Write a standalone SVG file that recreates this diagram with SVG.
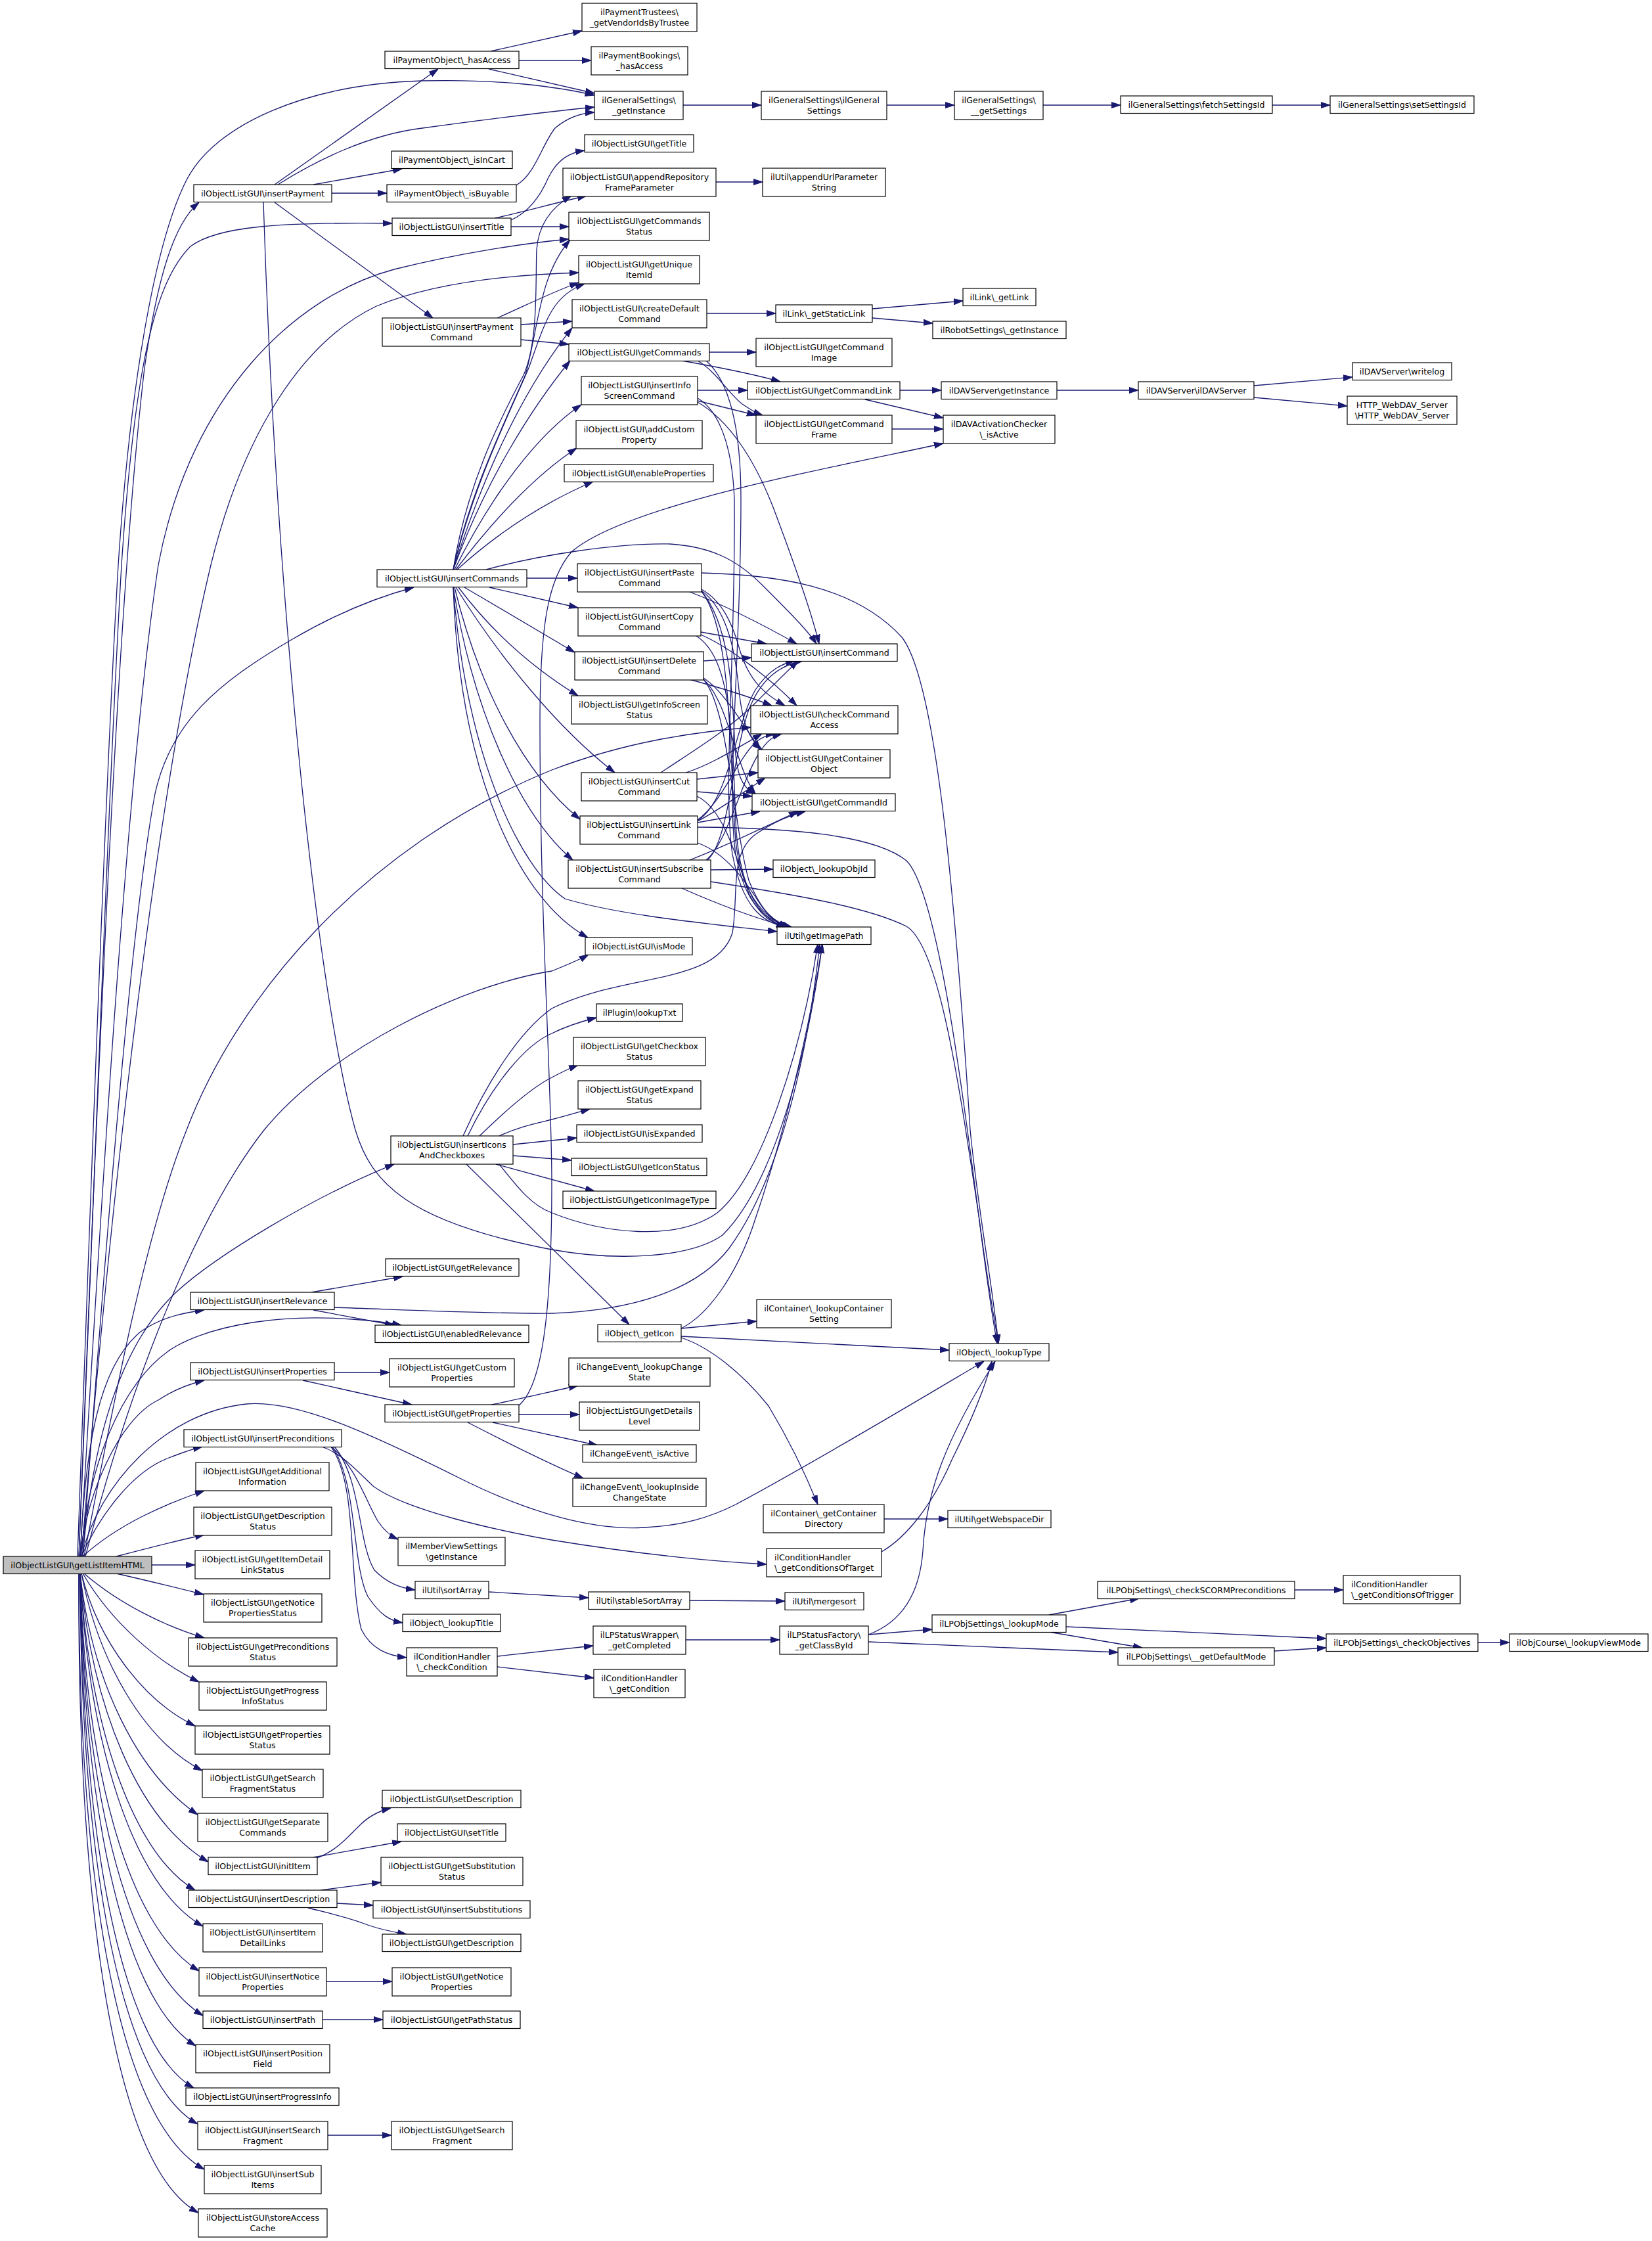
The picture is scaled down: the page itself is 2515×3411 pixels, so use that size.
<svg xmlns="http://www.w3.org/2000/svg" width="2515" height="3411" viewBox="0 0 2515 3411">
<style>
.n rect{fill:#fff;stroke:#000;stroke-width:1.2}
.r rect{fill:#bfbfbf}
text{font-family:"DejaVu Sans","Liberation Sans",sans-serif;font-size:12.6px;fill:#000;text-anchor:middle}
.l text{text-anchor:start}
#edges path{fill:none;stroke:#191970;stroke-width:1.3;marker-end:url(#a)}
</style>
<defs>
<marker id="a" viewBox="0 0 14 10" refX="14" refY="5" markerWidth="14" markerHeight="10" markerUnits="userSpaceOnUse" orient="auto"><path d="M0,0.5 L14,5 L0,9.5 z" fill="#191970" stroke="#191970" stroke-width="1"/></marker>
</defs>
<rect width="2515" height="3411" fill="#fff"/>
<g id="edges">
<path d="M120,2369 C150,1600 180,900 220,560 C240,420 265,340 303,308"/>
<path d="M118,2369 C135,1900 160,1200 180,860 C200,560 240,360 284,274 C328,188 470,128 643,123 C760,120 850,132 905,145"/>
<path d="M120,2369 C140,1900 165,1200 185,860 C205,560 235,430 290,375 C330,345 420,338 597,340"/>
<path d="M122,2369 C150,1900 190,1200 241,860 C290,600 450,450 600,410 C700,385 800,370 866,364"/>
<path d="M124,2369 C170,1800 240,1200 321,860 C370,660 460,520 573,466 C660,430 780,418 881,415"/>
<path d="M126,2369 C160,1900 200,1400 236,1208 C260,1100 330,1040 445,973 C510,935 570,910 630,894"/>
<path d="M128,2369 C170,2150 220,1880 284,1720 C360,1520 550,1290 840,1172 C950,1130 1050,1115 1143,1107"/>
<path d="M130,2369 C200,2100 300,1850 402,1720 C500,1600 700,1500 840,1478 C860,1470 880,1462 896,1453"/>
<path d="M126,2369 C140,2200 180,2050 268,1967 C330,1910 480,1820 600,1772"/>
<path d="M122,2369 C130,2200 150,2080 214,2027 C245,2005 280,1998 311,1994"/>
<path d="M124,2369 C130,2250 180,2100 268,2049 C330,2015 430,2000 536,2008 C570,2010 590,2013 611,2017"/>
<path d="M122,2369 C130,2280 180,2160 241,2131 C265,2115 290,2106 311,2101"/>
<path d="M124,2369 C150,2260 250,2150 375,2137 C450,2130 560,2180 700,2250 C800,2300 900,2330 980,2325 C1040,2322 1080,2310 1120,2290 C1250,2220 1400,2130 1498,2072"/>
<path d="M124,2369 C150,2310 200,2240 257,2219 C280,2210 295,2205 308,2202"/>
<path d="M126,2369 C180,2320 250,2290 311,2269"/>
<path d="M177,2369 C230,2355 270,2345 311,2336"/>
<path d="M231,2382 L297,2382"/>
<path d="M177,2395 C230,2407 270,2417 310,2427"/>
<path d="M128,2395 C180,2440 250,2475 311,2493"/>
<path d="M126,2395 C170,2470 240,2530 303,2560"/>
<path d="M124,2395 C150,2500 220,2590 297,2627"/>
<path d="M124,2395 C150,2530 220,2650 308,2695"/>
<path d="M122,2395 C140,2560 210,2700 301,2762"/>
<path d="M122,2395 C140,2600 210,2770 317,2834"/>
<path d="M122,2395 C135,2620 200,2820 297,2877"/>
<path d="M122,2395 C135,2650 200,2870 309,2932"/>
<path d="M122,2395 C130,2680 190,2930 303,3000"/>
<path d="M122,2395 C128,2700 185,2990 309,3068"/>
<path d="M122,2395 C126,2720 180,3040 298,3114"/>
<path d="M122,2395 C124,2750 175,3110 295,3178"/>
<path d="M122,2395 C122,2770 170,3160 301,3233"/>
<path d="M120,2395 C120,2800 165,3220 311,3302"/>
<path d="M120,2395 C118,2830 160,3290 302,3368"/>
<path d="M418,281 L667,105"/>
<path d="M423,281 C480,245 560,205 643,195 C740,182 830,170 905,163"/>
<path d="M477,281 L612,257"/>
<path d="M505,294 L589,294"/>
<path d="M418,308 L659,484"/>
<path d="M401,308 C420,900 480,1500 541,1720 C565,1800 620,1860 840,1902 C940,1920 1050,1915 1100,1880 C1180,1800 1230,1600 1252,1437"/>
<path d="M778,335 C800,325 820,305 835,270 C850,240 870,232 890,229"/>
<path d="M753,332 C800,322 840,310 893,298"/>
<path d="M778,345 L866,345"/>
<path d="M747,78 L886,47"/>
<path d="M790,92 L900,92"/>
<path d="M744,105 L905,142"/>
<path d="M786,282 C815,265 825,220 845,195 C865,178 885,172 905,171"/>
<path d="M757,484 C800,465 840,445 881,430"/>
<path d="M793,494 L871,489"/>
<path d="M793,517 L866,524"/>
<path d="M690,867 C710,740 760,640 797,571 C820,520 815,430 817,380 C820,340 840,315 870,298"/>
<path d="M690,867 C715,750 770,640 800,570 C820,500 820,420 868,365"/>
<path d="M690,867 C720,740 775,630 805,560 C830,490 840,450 890,432"/>
<path d="M690,867 C730,740 790,600 871,499"/>
<path d="M690,867 C740,730 810,620 868,549"/>
<path d="M692,867 C750,750 820,660 885,616"/>
<path d="M694,867 C760,780 820,720 878,682"/>
<path d="M696,867 C770,800 840,760 903,733"/>
<path d="M740,867 C820,845 940,826 1020,828 C1080,832 1120,850 1160,890 C1200,930 1230,960 1243,980"/>
<path d="M802,880 L879,880"/>
<path d="M745,894 L880,925"/>
<path d="M707,894 C760,925 810,955 875,993"/>
<path d="M698,894 C740,950 800,1010 880,1059"/>
<path d="M694,894 C760,1000 850,1110 936,1176"/>
<path d="M692,894 C730,1050 800,1180 883,1247"/>
<path d="M690,894 C720,1080 790,1240 872,1309"/>
<path d="M690,894 C710,1150 790,1320 860,1368 C950,1395 1100,1408 1183,1418"/>
<path d="M690,894 C700,1180 790,1370 895,1427"/>
<path d="M1040,160 L1159,160"/>
<path d="M1350,160 L1453,160"/>
<path d="M1588,160 L1706,160"/>
<path d="M1937,160 L2025,160"/>
<path d="M1090,277 L1161,277"/>
<path d="M1076,477 L1181,477"/>
<path d="M1328,470 L1466,458"/>
<path d="M1328,484 L1420,492"/>
<path d="M1080,536 L1151,536"/>
<path d="M1038,549 C1100,560 1150,570 1188,581"/>
<path d="M1062,549 C1090,565 1110,600 1130,615 C1145,625 1150,628 1161,632"/>
<path d="M1075,549 C1110,580 1128,650 1128,760 C1128,1000 1105,1200 1120,1300 C1135,1380 1165,1400 1205,1411"/>
<path d="M1062,594 L1138,594"/>
<path d="M1062,610 L1151,632"/>
<path d="M1062,606 C1095,625 1115,680 1118,760 C1120,1000 1100,1200 1115,1300 C1130,1380 1160,1405 1198,1411"/>
<path d="M1062,612 C1110,640 1150,700 1180,780 C1210,860 1235,930 1247,980"/>
<path d="M1370,594 L1433,594"/>
<path d="M1317,608 L1436,636"/>
<path d="M1358,653 L1436,653"/>
<path d="M1609,594 L1733,594"/>
<path d="M1909,587 L2059,574"/>
<path d="M1909,605 L2051,618"/>
<path d="M1050,901 C1100,920 1160,950 1213,980"/>
<path d="M1068,897 C1100,915 1115,950 1125,985 C1140,1040 1170,1060 1195,1074"/>
<path d="M1068,899 C1110,930 1120,1000 1125,1050 C1130,1100 1140,1125 1160,1141"/>
<path d="M1068,900 C1110,950 1115,1050 1118,1120 C1120,1180 1130,1200 1150,1208"/>
<path d="M1068,900 C1115,960 1110,1150 1120,1280 C1130,1370 1170,1400 1200,1411"/>
<path d="M1068,872 C1180,875 1300,890 1373,970 C1420,1030 1450,1300 1477,1720 C1490,1850 1510,1950 1520,2045"/>
<path d="M1067,962 L1167,980"/>
<path d="M1067,966 C1110,985 1170,1030 1213,1074"/>
<path d="M1060,968 C1110,1000 1115,1100 1120,1250 C1125,1360 1160,1400 1196,1411"/>
<path d="M1071,1006 L1144,1001"/>
<path d="M1049,1034 C1090,1045 1140,1060 1175,1074"/>
<path d="M1071,1032 C1100,1050 1130,1100 1157,1141"/>
<path d="M1071,1034 C1110,1070 1120,1170 1150,1208"/>
<path d="M1071,1034 C1110,1080 1115,1250 1140,1340 C1160,1390 1180,1405 1205,1411"/>
<path d="M1006,1176 C1060,1140 1110,1110 1150,1070 C1180,1040 1200,1020 1215,1006"/>
<path d="M1044,1176 C1080,1165 1120,1140 1160,1117"/>
<path d="M1061,1186 L1154,1176"/>
<path d="M1061,1205 L1145,1212"/>
<path d="M1061,1212 C1100,1230 1120,1300 1140,1360 C1160,1400 1180,1408 1205,1411"/>
<path d="M1062,1249 C1110,1220 1120,1100 1150,1050 C1170,1020 1190,1010 1210,1006"/>
<path d="M1062,1248 C1100,1220 1120,1160 1150,1130 C1160,1122 1170,1118 1180,1117"/>
<path d="M1062,1250 C1100,1230 1140,1200 1165,1184"/>
<path d="M1062,1252 L1157,1235"/>
<path d="M1062,1283 C1110,1300 1140,1350 1160,1380 C1175,1400 1185,1405 1200,1411"/>
<path d="M1062,1259 C1200,1260 1330,1270 1380,1310 C1430,1360 1470,1700 1490,1850 C1500,1930 1510,2000 1518,2045"/>
<path d="M1077,1309 C1110,1280 1115,1150 1140,1080 C1160,1030 1190,1012 1222,1006"/>
<path d="M1075,1309 C1110,1280 1130,1180 1160,1140 C1170,1125 1180,1120 1190,1117"/>
<path d="M1050,1309 C1100,1290 1150,1265 1215,1235"/>
<path d="M1082,1324 L1177,1323"/>
<path d="M1038,1352 C1090,1375 1140,1395 1200,1411"/>
<path d="M1082,1342 C1200,1360 1320,1380 1380,1410 C1430,1440 1460,1650 1490,1850 C1502,1940 1512,2000 1520,2045"/>
<path d="M705,1729 C740,1650 790,1570 840,1535 C950,1480 1090,1500 1115,1420 C1125,1360 1110,1300 1150,1270 C1180,1250 1200,1242 1226,1235"/>
<path d="M712,1729 C750,1650 800,1590 840,1573 C860,1563 880,1556 908,1549"/>
<path d="M730,1729 C770,1690 810,1655 840,1640 C855,1632 865,1627 880,1621"/>
<path d="M760,1729 C790,1715 815,1710 840,1704 C860,1699 880,1693 898,1688"/>
<path d="M781,1742 L878,1732"/>
<path d="M781,1759 L870,1766"/>
<path d="M755,1772 L905,1813"/>
<path d="M710,1772 L958,2016"/>
<path d="M760,1772 C790,1810 810,1835 840,1846 C920,1878 1030,1890 1092,1846 C1160,1790 1220,1600 1245,1437"/>
<path d="M474,1967 L613,1943"/>
<path d="M477,1994 L600,2017"/>
<path d="M509,1990 C650,1995 760,2000 840,1999 C960,1995 1060,1965 1110,1900 C1190,1790 1230,1600 1248,1437"/>
<path d="M509,2089 L593,2089"/>
<path d="M461,2101 L627,2138"/>
<path d="M748,2138 C790,2130 830,2120 880,2109"/>
<path d="M790,2153 L882,2153"/>
<path d="M750,2165 L910,2200"/>
<path d="M712,2165 C780,2200 830,2225 888,2250"/>
<path d="M790,2139 C825,2110 840,2000 840,1800 C840,1650 822,1400 822,1100 C822,950 835,880 870,840 C950,770 1250,715 1436,675"/>
<path d="M1037,2022 L1152,2011"/>
<path d="M1037,2034 L1445,2055"/>
<path d="M1037,2036 C1080,2050 1130,2090 1170,2140 C1200,2190 1225,2240 1245,2290"/>
<path d="M1037,2022 C1080,2000 1120,1940 1145,1870 C1190,1740 1230,1580 1252,1437"/>
<path d="M1346,2312 L1443,2312"/>
<path d="M1342,2362 C1380,2340 1420,2290 1450,2220 C1480,2160 1500,2110 1510,2072"/>
<path d="M1322,2488 C1370,2470 1400,2430 1405,2360 C1410,2270 1440,2190 1515,2072"/>
<path d="M504,2202 C540,2230 555,2280 575,2315 C585,2330 595,2338 606,2343"/>
<path d="M509,2202 C550,2250 545,2350 570,2390 C590,2410 610,2417 632,2420"/>
<path d="M506,2202 C545,2260 535,2380 560,2430 C580,2460 595,2467 613,2470"/>
<path d="M504,2202 C545,2260 530,2400 550,2480 C565,2510 590,2520 619,2523"/>
<path d="M490,2202 C520,2212 545,2240 568,2262 C620,2300 760,2330 840,2344 C950,2362 1060,2375 1167,2381"/>
<path d="M744,2423 L896,2432"/>
<path d="M1050,2436 L1195,2437"/>
<path d="M757,2521 L903,2505"/>
<path d="M757,2537 L904,2554"/>
<path d="M1044,2496 L1187,2496"/>
<path d="M1322,2488 L1419,2480"/>
<path d="M1322,2499 L1702,2515"/>
<path d="M1597,2484 L1739,2508"/>
<path d="M1597,2458 L1734,2433"/>
<path d="M1623,2476 C1750,2482 1900,2488 2019,2494"/>
<path d="M1940,2513 L2019,2508"/>
<path d="M1971,2420 L2045,2420"/>
<path d="M2250,2500 L2298,2500"/>
<path d="M483,2828 C515,2815 530,2795 546,2780 C560,2765 575,2757 595,2752"/>
<path d="M477,2827 L611,2803"/>
<path d="M488,2877 L580,2865"/>
<path d="M513,2897 L568,2900"/>
<path d="M469,2904 C500,2912 530,2918 560,2930 C580,2937 600,2941 619,2944"/>
<path d="M497,3016 L597,3016"/>
<path d="M491,3074 L583,3074"/>
<path d="M499,3250 L596,3250"/>
</g>
<g id="root" class="n r"><rect x="5" y="2369" width="226" height="26.5"/><text x="118" y="2386.8">ilObjectListGUI\getListItemHTML</text></g>
<g id="insertPayment" class="n"><rect x="295" y="281" width="210" height="26.5"/><text x="400" y="298.8">ilObjectListGUI\insertPayment</text></g>
<g id="insertRelevance" class="n"><rect x="290" y="1967" width="219" height="26.5"/><text x="399.5" y="1984.8">ilObjectListGUI\insertRelevance</text></g>
<g id="insertProperties" class="n"><rect x="290" y="2074" width="219" height="26.5"/><text x="399.5" y="2091.8">ilObjectListGUI\insertProperties</text></g>
<g id="insertPreconditions" class="n"><rect x="280" y="2176" width="240" height="26.5"/><text x="400" y="2193.8">ilObjectListGUI\insertPreconditions</text></g>
<g id="getAdditionalInformation" class="n"><rect x="298" y="2226" width="203" height="43"/><text><tspan x="399.5" y="2243.8">ilObjectListGUI\getAdditional</tspan><tspan x="399.5" y="2259.7">Information</tspan></text></g>
<g id="getDescriptionStatus" class="n"><rect x="295" y="2294" width="210" height="43"/><text><tspan x="400" y="2311.8">ilObjectListGUI\getDescription</tspan><tspan x="400" y="2327.7">Status</tspan></text></g>
<g id="getItemDetailLinkStatus" class="n"><rect x="297" y="2360" width="205" height="43"/><text><tspan x="399.5" y="2377.8">ilObjectListGUI\getItemDetail</tspan><tspan x="399.5" y="2393.7">LinkStatus</tspan></text></g>
<g id="getNoticePropertiesStatus" class="n"><rect x="310" y="2426" width="180" height="43"/><text><tspan x="400" y="2443.8">ilObjectListGUI\getNotice</tspan><tspan x="400" y="2459.7">PropertiesStatus</tspan></text></g>
<g id="getPreconditionsStatus" class="n"><rect x="287" y="2493" width="226" height="43"/><text><tspan x="400" y="2510.8">ilObjectListGUI\getPreconditions</tspan><tspan x="400" y="2526.7">Status</tspan></text></g>
<g id="getProgressInfoStatus" class="n"><rect x="303" y="2560" width="194" height="43"/><text><tspan x="400" y="2577.8">ilObjectListGUI\getProgress</tspan><tspan x="400" y="2593.7">InfoStatus</tspan></text></g>
<g id="getPropertiesStatus" class="n"><rect x="297" y="2627" width="205" height="43"/><text><tspan x="399.5" y="2644.8">ilObjectListGUI\getProperties</tspan><tspan x="399.5" y="2660.7">Status</tspan></text></g>
<g id="getSearchFragmentStatus" class="n"><rect x="308" y="2693" width="184" height="43"/><text><tspan x="400" y="2710.8">ilObjectListGUI\getSearch</tspan><tspan x="400" y="2726.7">FragmentStatus</tspan></text></g>
<g id="getSeparateCommands" class="n"><rect x="301" y="2760" width="198" height="43"/><text><tspan x="400" y="2777.8">ilObjectListGUI\getSeparate</tspan><tspan x="400" y="2793.7">Commands</tspan></text></g>
<g id="initItem" class="n"><rect x="317" y="2827" width="166" height="26.5"/><text x="400" y="2844.8">ilObjectListGUI\initItem</text></g>
<g id="insertDescription" class="n"><rect x="287" y="2877" width="226" height="26.5"/><text x="400" y="2894.8">ilObjectListGUI\insertDescription</text></g>
<g id="insertItemDetailLinks" class="n"><rect x="309" y="2928" width="182" height="43"/><text><tspan x="400" y="2945.8">ilObjectListGUI\insertItem</tspan><tspan x="400" y="2961.7">DetailLinks</tspan></text></g>
<g id="insertNoticeProperties" class="n"><rect x="303" y="2995" width="194" height="43"/><text><tspan x="400" y="3012.8">ilObjectListGUI\insertNotice</tspan><tspan x="400" y="3028.7">Properties</tspan></text></g>
<g id="insertPath" class="n"><rect x="309" y="3061" width="182" height="26.5"/><text x="400" y="3078.8">ilObjectListGUI\insertPath</text></g>
<g id="insertPositionField" class="n"><rect x="298" y="3112" width="204" height="43"/><text><tspan x="400" y="3129.8">ilObjectListGUI\insertPosition</tspan><tspan x="400" y="3145.7">Field</tspan></text></g>
<g id="insertProgressInfo" class="n"><rect x="283" y="3178" width="233" height="26.5"/><text x="399.5" y="3195.8">ilObjectListGUI\insertProgressInfo</text></g>
<g id="insertSearchFragment" class="n"><rect x="301" y="3229" width="198" height="43"/><text><tspan x="400" y="3246.8">ilObjectListGUI\insertSearch</tspan><tspan x="400" y="3262.7">Fragment</tspan></text></g>
<g id="insertSubItems" class="n"><rect x="311" y="3296" width="178" height="43"/><text><tspan x="400" y="3313.8">ilObjectListGUI\insertSub</tspan><tspan x="400" y="3329.7">Items</tspan></text></g>
<g id="storeAccessCache" class="n"><rect x="302" y="3362" width="196" height="43"/><text><tspan x="400" y="3379.8">ilObjectListGUI\storeAccess</tspan><tspan x="400" y="3395.7">Cache</tspan></text></g>
<g id="hasAccess" class="n"><rect x="586" y="78" width="204" height="26.5"/><text x="688" y="95.8">ilPaymentObject\_hasAccess</text></g>
<g id="isInCart" class="n"><rect x="596" y="230" width="184" height="26.5"/><text x="688" y="247.8">ilPaymentObject\_isInCart</text></g>
<g id="isBuyable" class="n"><rect x="589" y="281" width="197" height="26.5"/><text x="687.5" y="298.8">ilPaymentObject\_isBuyable</text></g>
<g id="insertTitle" class="n"><rect x="597" y="332" width="181" height="26.5"/><text x="687.5" y="349.8">ilObjectListGUI\insertTitle</text></g>
<g id="insertPaymentCommand" class="n"><rect x="582" y="484" width="211" height="43"/><text><tspan x="687.5" y="501.8">ilObjectListGUI\insertPayment</tspan><tspan x="687.5" y="517.7">Command</tspan></text></g>
<g id="insertCommands" class="n"><rect x="574" y="867" width="228" height="26.5"/><text x="688" y="884.8">ilObjectListGUI\insertCommands</text></g>
<g id="insertIconsAndCheckboxes" class="n"><rect x="595" y="1729" width="186" height="43"/><text><tspan x="688" y="1746.8">ilObjectListGUI\insertIcons</tspan><tspan x="688" y="1762.7">AndCheckboxes</tspan></text></g>
<g id="getRelevance" class="n"><rect x="587" y="1916" width="203" height="26.5"/><text x="688.5" y="1933.8">ilObjectListGUI\getRelevance</text></g>
<g id="enabledRelevance" class="n"><rect x="571" y="2017" width="234" height="26.5"/><text x="688" y="2034.8">ilObjectListGUI\enabledRelevance</text></g>
<g id="getCustomProperties" class="n"><rect x="593" y="2068" width="190" height="43"/><text><tspan x="688" y="2085.8">ilObjectListGUI\getCustom</tspan><tspan x="688" y="2101.7">Properties</tspan></text></g>
<g id="getProperties" class="n"><rect x="586" y="2138" width="204" height="26.5"/><text x="688" y="2155.8">ilObjectListGUI\getProperties</text></g>
<g id="memberViewSettings" class="n"><rect x="606" y="2340" width="163" height="43"/><text><tspan x="687.5" y="2357.8">ilMemberViewSettings</tspan><tspan x="687.5" y="2373.7">\getInstance</tspan></text></g>
<g id="sortArray" class="n"><rect x="632" y="2407" width="112" height="26.5"/><text x="688" y="2424.8">ilUtil\sortArray</text></g>
<g id="lookupTitle" class="n"><rect x="613" y="2457" width="149" height="26.5"/><text x="687.5" y="2474.8">ilObject\_lookupTitle</text></g>
<g id="checkCondition" class="n"><rect x="619" y="2508" width="138" height="43"/><text><tspan x="688" y="2525.8">ilConditionHandler</tspan><tspan x="688" y="2541.7">\_checkCondition</tspan></text></g>
<g id="setDescription" class="n"><rect x="582" y="2725" width="211" height="26.5"/><text x="687.5" y="2742.8">ilObjectListGUI\setDescription</text></g>
<g id="setTitle" class="n"><rect x="605" y="2776" width="165" height="26.5"/><text x="687.5" y="2793.8">ilObjectListGUI\setTitle</text></g>
<g id="getSubstitutionStatus" class="n"><rect x="580" y="2827" width="216" height="43"/><text><tspan x="688" y="2844.8">ilObjectListGUI\getSubstitution</tspan><tspan x="688" y="2860.7">Status</tspan></text></g>
<g id="insertSubstitutions" class="n"><rect x="568" y="2893" width="239" height="26.5"/><text x="687.5" y="2910.8">ilObjectListGUI\insertSubstitutions</text></g>
<g id="getDescription" class="n"><rect x="582" y="2944" width="211" height="26.5"/><text x="687.5" y="2961.8">ilObjectListGUI\getDescription</text></g>
<g id="getNoticeProperties" class="n"><rect x="597" y="2995" width="181" height="43"/><text><tspan x="687.5" y="3012.8">ilObjectListGUI\getNotice</tspan><tspan x="687.5" y="3028.7">Properties</tspan></text></g>
<g id="getPathStatus" class="n"><rect x="583" y="3061" width="209" height="26.5"/><text x="687.5" y="3078.8">ilObjectListGUI\getPathStatus</text></g>
<g id="getSearchFragment" class="n"><rect x="596" y="3229" width="184" height="43"/><text><tspan x="688" y="3246.8">ilObjectListGUI\getSearch</tspan><tspan x="688" y="3262.7">Fragment</tspan></text></g>
<g id="getVendorIdsByTrustee" class="n"><rect x="886" y="5" width="175" height="43"/><text><tspan x="973.5" y="22.8">ilPaymentTrustees\</tspan><tspan x="973.5" y="38.7">_getVendorIdsByTrustee</tspan></text></g>
<g id="paymentBookingsHasAccess" class="n"><rect x="900" y="71" width="147" height="43"/><text><tspan x="973.5" y="88.8">ilPaymentBookings\</tspan><tspan x="973.5" y="104.7">_hasAccess</tspan></text></g>
<g id="gsGetInstance" class="n"><rect x="905" y="139" width="135" height="43"/><text><tspan x="972.5" y="156.8">ilGeneralSettings\</tspan><tspan x="972.5" y="172.7">_getInstance</tspan></text></g>
<g id="getTitle" class="n"><rect x="890" y="205" width="166" height="26.5"/><text x="973" y="222.8">ilObjectListGUI\getTitle</text></g>
<g id="appendRepositoryFrameParameter" class="n"><rect x="857" y="256" width="233" height="43"/><text><tspan x="973.5" y="273.8">ilObjectListGUI\appendRepository</tspan><tspan x="973.5" y="289.7">FrameParameter</tspan></text></g>
<g id="getCommandsStatus" class="n"><rect x="866" y="323" width="214" height="43"/><text><tspan x="973" y="340.8">ilObjectListGUI\getCommands</tspan><tspan x="973" y="356.7">Status</tspan></text></g>
<g id="getUniqueItemId" class="n"><rect x="881" y="389" width="184" height="43"/><text><tspan x="973" y="406.8">ilObjectListGUI\getUnique</tspan><tspan x="973" y="422.7">ItemId</tspan></text></g>
<g id="createDefaultCommand" class="n"><rect x="871" y="456" width="205" height="43"/><text><tspan x="973.5" y="473.8">ilObjectListGUI\createDefault</tspan><tspan x="973.5" y="489.7">Command</tspan></text></g>
<g id="getCommands" class="n"><rect x="866" y="523" width="214" height="26.5"/><text x="973" y="540.8">ilObjectListGUI\getCommands</text></g>
<g id="insertInfoScreenCommand" class="n"><rect x="885" y="573" width="177" height="43"/><text><tspan x="973.5" y="590.8">ilObjectListGUI\insertInfo</tspan><tspan x="973.5" y="606.7">ScreenCommand</tspan></text></g>
<g id="addCustomProperty" class="n"><rect x="877" y="640" width="192" height="43"/><text><tspan x="973" y="657.8">ilObjectListGUI\addCustom</tspan><tspan x="973" y="673.7">Property</tspan></text></g>
<g id="enableProperties" class="n"><rect x="859" y="707" width="227" height="26.5"/><text x="972.5" y="724.8">ilObjectListGUI\enableProperties</text></g>
<g id="insertPasteCommand" class="n"><rect x="879" y="858" width="189" height="43"/><text><tspan x="973.5" y="875.8">ilObjectListGUI\insertPaste</tspan><tspan x="973.5" y="891.7">Command</tspan></text></g>
<g id="insertCopyCommand" class="n"><rect x="880" y="925" width="187" height="43"/><text><tspan x="973.5" y="942.8">ilObjectListGUI\insertCopy</tspan><tspan x="973.5" y="958.7">Command</tspan></text></g>
<g id="insertDeleteCommand" class="n"><rect x="875" y="992" width="196" height="43"/><text><tspan x="973" y="1009.8">ilObjectListGUI\insertDelete</tspan><tspan x="973" y="1025.7">Command</tspan></text></g>
<g id="getInfoScreenStatus" class="n"><rect x="870" y="1059" width="207" height="43"/><text><tspan x="973.5" y="1076.8">ilObjectListGUI\getInfoScreen</tspan><tspan x="973.5" y="1092.7">Status</tspan></text></g>
<g id="insertCutCommand" class="n"><rect x="885" y="1176" width="176" height="43"/><text><tspan x="973" y="1193.8">ilObjectListGUI\insertCut</tspan><tspan x="973" y="1209.7">Command</tspan></text></g>
<g id="insertLinkCommand" class="n"><rect x="883" y="1242" width="179" height="43"/><text><tspan x="972.5" y="1259.8">ilObjectListGUI\insertLink</tspan><tspan x="972.5" y="1275.7">Command</tspan></text></g>
<g id="insertSubscribeCommand" class="n"><rect x="865" y="1309" width="217" height="43"/><text><tspan x="973.5" y="1326.8">ilObjectListGUI\insertSubscribe</tspan><tspan x="973.5" y="1342.7">Command</tspan></text></g>
<g id="isMode" class="n"><rect x="891" y="1427" width="163" height="26.5"/><text x="972.5" y="1444.8">ilObjectListGUI\isMode</text></g>
<g id="lookupTxt" class="n"><rect x="908" y="1528" width="131" height="26.5"/><text x="973.5" y="1545.8">ilPlugin\lookupTxt</text></g>
<g id="getCheckboxStatus" class="n"><rect x="873" y="1579" width="201" height="43"/><text><tspan x="973.5" y="1596.8">ilObjectListGUI\getCheckbox</tspan><tspan x="973.5" y="1612.7">Status</tspan></text></g>
<g id="getExpandStatus" class="n"><rect x="880" y="1645" width="187" height="43"/><text><tspan x="973.5" y="1662.8">ilObjectListGUI\getExpand</tspan><tspan x="973.5" y="1678.7">Status</tspan></text></g>
<g id="isExpanded" class="n"><rect x="878" y="1712" width="191" height="26.5"/><text x="973.5" y="1729.8">ilObjectListGUI\isExpanded</text></g>
<g id="getIconStatus" class="n"><rect x="870" y="1763" width="206" height="26.5"/><text x="973" y="1780.8">ilObjectListGUI\getIconStatus</text></g>
<g id="getIconImageType" class="n"><rect x="857" y="1813" width="233" height="26.5"/><text x="973.5" y="1830.8">ilObjectListGUI\getIconImageType</text></g>
<g id="getIcon" class="n"><rect x="910" y="2016" width="127" height="26.5"/><text x="973.5" y="2033.8">ilObject\_getIcon</text></g>
<g id="lookupChangeState" class="n"><rect x="866" y="2067" width="215" height="43"/><text><tspan x="973.5" y="2084.8">ilChangeEvent\_lookupChange</tspan><tspan x="973.5" y="2100.7">State</tspan></text></g>
<g id="getDetailsLevel" class="n"><rect x="882" y="2134" width="183" height="43"/><text><tspan x="973.5" y="2151.8">ilObjectListGUI\getDetails</tspan><tspan x="973.5" y="2167.7">Level</tspan></text></g>
<g id="changeEventIsActive" class="n"><rect x="887" y="2199" width="173" height="26.5"/><text x="973.5" y="2216.8">ilChangeEvent\_isActive</text></g>
<g id="lookupInsideChangeState" class="n"><rect x="872" y="2250" width="203" height="43"/><text><tspan x="973.5" y="2267.8">ilChangeEvent\_lookupInside</tspan><tspan x="973.5" y="2283.7">ChangeState</tspan></text></g>
<g id="stableSortArray" class="n"><rect x="896" y="2423" width="154" height="26.5"/><text x="973" y="2440.8">ilUtil\stableSortArray</text></g>
<g id="getCompleted" class="n"><rect x="903" y="2475" width="141" height="43"/><text><tspan x="973.5" y="2492.8">ilLPStatusWrapper\</tspan><tspan x="973.5" y="2508.7">_getCompleted</tspan></text></g>
<g id="getCondition" class="n"><rect x="904" y="2541" width="139" height="43"/><text><tspan x="973.5" y="2558.8">ilConditionHandler</tspan><tspan x="973.5" y="2574.7">\_getCondition</tspan></text></g>
<g id="gsIlGeneralSettings" class="n"><rect x="1159" y="139" width="191" height="43"/><text><tspan x="1254.5" y="156.8">ilGeneralSettings\ilGeneral</tspan><tspan x="1254.5" y="172.7">Settings</tspan></text></g>
<g id="appendUrlParameterString" class="n"><rect x="1161" y="256" width="187" height="43"/><text><tspan x="1254.5" y="273.8">ilUtil\appendUrlParameter</tspan><tspan x="1254.5" y="289.7">String</tspan></text></g>
<g id="getStaticLink" class="n"><rect x="1181" y="464" width="147" height="26.5"/><text x="1254.5" y="481.8">ilLink\_getStaticLink</text></g>
<g id="getCommandImage" class="n"><rect x="1151" y="515" width="207" height="43"/><text><tspan x="1254.5" y="532.8">ilObjectListGUI\getCommand</tspan><tspan x="1254.5" y="548.7">Image</tspan></text></g>
<g id="getCommandLink" class="n"><rect x="1138" y="581" width="232" height="26.5"/><text x="1254" y="598.8">ilObjectListGUI\getCommandLink</text></g>
<g id="getCommandFrame" class="n"><rect x="1151" y="632" width="207" height="43"/><text><tspan x="1254.5" y="649.8">ilObjectListGUI\getCommand</tspan><tspan x="1254.5" y="665.7">Frame</tspan></text></g>
<g id="insertCommand" class="n"><rect x="1144" y="980" width="222" height="26.5"/><text x="1255" y="997.8">ilObjectListGUI\insertCommand</text></g>
<g id="checkCommandAccess" class="n"><rect x="1143" y="1074" width="224" height="43"/><text><tspan x="1255" y="1091.8">ilObjectListGUI\checkCommand</tspan><tspan x="1255" y="1107.7">Access</tspan></text></g>
<g id="getContainerObject" class="n"><rect x="1154" y="1141" width="201" height="43"/><text><tspan x="1254.5" y="1158.8">ilObjectListGUI\getContainer</tspan><tspan x="1254.5" y="1174.7">Object</tspan></text></g>
<g id="getCommandId" class="n"><rect x="1145" y="1208" width="218" height="26.5"/><text x="1254" y="1225.8">ilObjectListGUI\getCommandId</text></g>
<g id="lookupObjId" class="n"><rect x="1177" y="1309" width="155" height="26.5"/><text x="1254.5" y="1326.8">ilObject\_lookupObjId</text></g>
<g id="getImagePath" class="n"><rect x="1183" y="1411" width="143" height="26.5"/><text x="1254.5" y="1428.8">ilUtil\getImagePath</text></g>
<g id="lookupContainerSetting" class="n"><rect x="1152" y="1978" width="205" height="43"/><text><tspan x="1254.5" y="1995.8">ilContainer\_lookupContainer</tspan><tspan x="1254.5" y="2011.7">Setting</tspan></text></g>
<g id="getContainerDirectory" class="n"><rect x="1162" y="2290" width="184" height="43"/><text><tspan x="1254" y="2307.8">ilContainer\_getContainer</tspan><tspan x="1254" y="2323.7">Directory</tspan></text></g>
<g id="getConditionsOfTarget" class="n l"><rect x="1167" y="2357" width="175" height="43"/><text><tspan x="1179" y="2374.8">ilConditionHandler</tspan><tspan x="1179" y="2390.7">\_getConditionsOfTarget</tspan></text></g>
<g id="mergesort" class="n"><rect x="1195" y="2424" width="120" height="26.5"/><text x="1255" y="2441.8">ilUtil\mergesort</text></g>
<g id="getClassById" class="n"><rect x="1187" y="2475" width="135" height="43"/><text><tspan x="1254.5" y="2492.8">ilLPStatusFactory\</tspan><tspan x="1254.5" y="2508.7">_getClassById</tspan></text></g>
<g id="gsGetSettings" class="n"><rect x="1453" y="139" width="135" height="43"/><text><tspan x="1520.5" y="156.8">ilGeneralSettings\</tspan><tspan x="1520.5" y="172.7">__getSettings</tspan></text></g>
<g id="getLink" class="n"><rect x="1466" y="439" width="111" height="26.5"/><text x="1521.5" y="456.8">ilLink\_getLink</text></g>
<g id="robotSettings" class="n"><rect x="1420" y="489" width="203" height="26.5"/><text x="1521.5" y="506.8">ilRobotSettings\_getInstance</text></g>
<g id="davGetInstance" class="n"><rect x="1433" y="581" width="176" height="26.5"/><text x="1521" y="598.8">ilDAVServer\getInstance</text></g>
<g id="davActivationChecker" class="n"><rect x="1436" y="632" width="170" height="43"/><text><tspan x="1521" y="649.8">ilDAVActivationChecker</tspan><tspan x="1521" y="665.7">\_isActive</tspan></text></g>
<g id="lookupType" class="n"><rect x="1445" y="2045" width="152" height="26.5"/><text x="1521" y="2062.8">ilObject\_lookupType</text></g>
<g id="getWebspaceDir" class="n"><rect x="1443" y="2299" width="157" height="26.5"/><text x="1521.5" y="2316.8">ilUtil\getWebspaceDir</text></g>
<g id="lookupMode" class="n"><rect x="1419" y="2458" width="204" height="26.5"/><text x="1521" y="2475.8">ilLPObjSettings\_lookupMode</text></g>
<g id="fetchSettingsId" class="n"><rect x="1706" y="146" width="231" height="26.5"/><text x="1821.5" y="163.8">ilGeneralSettings\fetchSettingsId</text></g>
<g id="ilDAVServer" class="n"><rect x="1733" y="581" width="176" height="26.5"/><text x="1821" y="598.8">ilDAVServer\ilDAVServer</text></g>
<g id="checkSCORMPreconditions" class="n"><rect x="1671" y="2407" width="300" height="26.5"/><text x="1821" y="2424.8">ilLPObjSettings\_checkSCORMPreconditions</text></g>
<g id="getDefaultMode" class="n"><rect x="1702" y="2508" width="238" height="26.5"/><text x="1821" y="2525.8">ilLPObjSettings\__getDefaultMode</text></g>
<g id="setSettingsId" class="n"><rect x="2025" y="146" width="219" height="26.5"/><text x="2134.5" y="163.8">ilGeneralSettings\setSettingsId</text></g>
<g id="writelog" class="n"><rect x="2059" y="552" width="151" height="26.5"/><text x="2134.5" y="569.8">ilDAVServer\writelog</text></g>
<g id="httpWebDAVServer" class="n"><rect x="2051" y="603" width="167" height="43"/><text><tspan x="2134.5" y="620.8">HTTP_WebDAV_Server</tspan><tspan x="2134.5" y="636.7">\HTTP_WebDAV_Server</tspan></text></g>
<g id="getConditionsOfTrigger" class="n l"><rect x="2045" y="2398" width="178" height="43"/><text><tspan x="2057" y="2415.8">ilConditionHandler</tspan><tspan x="2057" y="2431.7">\_getConditionsOfTrigger</tspan></text></g>
<g id="checkObjectives" class="n"><rect x="2019" y="2487" width="231" height="26.5"/><text x="2134.5" y="2504.8">ilLPObjSettings\_checkObjectives</text></g>
<g id="lookupViewMode" class="n"><rect x="2298" y="2487" width="211" height="26.5"/><text x="2403.5" y="2504.8">ilObjCourse\_lookupViewMode</text></g>
</svg>
